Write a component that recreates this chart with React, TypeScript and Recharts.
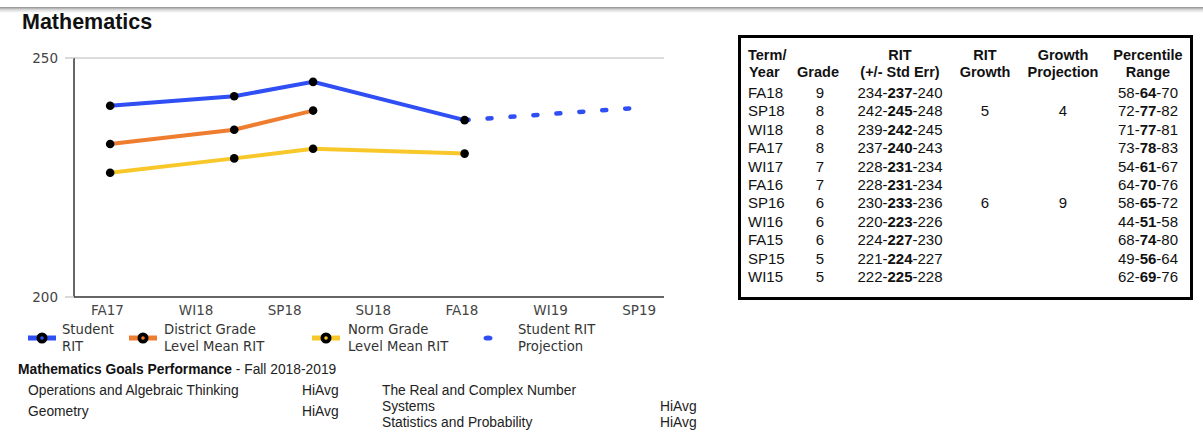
import { LineChart, Line, XAxis, YAxis, ReferenceLine } from "recharts";

const termLabels = ["FA17", "WI18", "SP18", "SU18", "FA18", "WI19", "SP19"];
const testTerms = ["FA17", "WI18", "SP18", "FA18"];
// where each test falls on the term axis (tests are dated, not centred on a term)
const testPositions = [0.03, 1.43, 2.32, 4.03];
const studentRIT = [240, 242, 245, 237];
const districtRIT = [232, 235, 239];
const normRIT = [226, 229, 231, 230];
const projectionPositions = [4.03, 5.92];
const projectionRIT = [237, 239.5];

const tableTerms = ["FA18", "SP18", "WI18", "FA17", "WI17", "FA16", "SP16", "WI16", "FA15", "SP15", "WI15"];
const tableGrades = [9, 8, 8, 8, 7, 7, 6, 6, 6, 5, 5];
const ritLow = [234, 242, 239, 237, 228, 228, 230, 220, 224, 221, 222];
const ritScore = [237, 245, 242, 240, 231, 231, 233, 223, 227, 224, 225];
const ritHigh = [240, 248, 245, 243, 234, 234, 236, 226, 230, 227, 228];
const ritGrowth = ["", "5", "", "", "", "", "6", "", "", "", ""];
const growthProjection = ["", "4", "", "", "", "", "9", "", "", "", ""];
const pctLow = [58, 72, 71, 73, 54, 64, 58, 44, 68, 49, 62];
const pctMid = [64, 77, 77, 78, 61, 70, 65, 51, 74, 56, 69];
const pctHigh = [70, 82, 81, 83, 67, 76, 72, 58, 80, 64, 76];

const goalsLeft = ["Operations and Algebraic Thinking", "Geometry"];
const goalsLeftScore = ["HiAvg", "HiAvg"];
const goalsRight = ["The Real and Complex Number\nSystems", "Statistics and Probability"];
const goalsRightScore = ["HiAvg", "HiAvg"];

const BLUE = "#2f4ef4";
const ORANGE = "#ef7d30";
const YELLOW = "#f8c82a";

const studentData = testTerms.map((t, i) => ({ term: t, pos: testPositions[i], rit: studentRIT[i] }));
const districtData = districtRIT.map((v, i) => ({ term: testTerms[i], pos: testPositions[i], rit: v }));
const normData = normRIT.map((v, i) => ({ term: testTerms[i], pos: testPositions[i], rit: v }));
const projectionData = projectionRIT.map((v, i) => ({ pos: projectionPositions[i], rit: v }));

const dot = { r: 4.3, fill: "#000", stroke: "#000", strokeWidth: 0 };
const tickStyle = { fill: "#444", fontSize: 13.5, fontFamily: "DejaVu Sans" };

function Txt({ x, y, children, align = "left", style = {} }: any) {
  const tx = align === "center" ? "translateX(-50%)" : align === "right" ? "translateX(-100%)" : "none";
  return (
    <div
      style={{
        position: "absolute",
        left: x,
        top: y - 9,
        height: 18,
        lineHeight: "18px",
        whiteSpace: "nowrap",
        transform: tx,
        ...style,
      }}
    >
      {children}
    </div>
  );
}

function LegendIcon({ x, color }: { x: number; color: string }) {
  return (
    <svg style={{ position: "absolute", left: x, top: 330 }} width={30} height={16}>
      <line x1={1} y1={8} x2={29} y2={8} stroke={color} strokeWidth={5} />
      <circle cx={15} cy={8} r={5.5} fill="#000" />
      <circle cx={15} cy={8} r={1.8} fill={color} />
    </svg>
  );
}

function ChartLegend() {
  const lbl = { fontFamily: "DejaVu Sans", fontSize: 13.2, color: "#333" };
  const item = (x: number, a: string, b: string) => (
    <>
      <Txt x={x} y={330} style={lbl}>{a}</Txt>
      <Txt x={x} y={347} style={lbl}>{b}</Txt>
    </>
  );
  return (
    <>
      <LegendIcon x={27} color={BLUE} />
      {item(62, "Student", "RIT")}
      <LegendIcon x={128} color={ORANGE} />
      {item(164, "District Grade", "Level Mean RIT")}
      <LegendIcon x={311} color={YELLOW} />
      {item(348, "Norm Grade", "Level Mean RIT")}
      <svg style={{ position: "absolute", left: 482, top: 334 }} width={12} height={8}>
        <ellipse cx={6} cy={4} rx={4.5} ry={2.6} fill={BLUE} />
      </svg>
      {item(518, "Student RIT", "Projection")}
    </>
  );
}

function RitTable() {
  const hd = { fontFamily: "Liberation Sans", fontSize: 14.5, fontWeight: 700, color: "#111" };
  const cell = { fontFamily: "Liberation Sans", fontSize: 15, color: "#111" };
  const rowY = (i: number) => 93 + i * 18.4;
  return (
    <>
      <div
        style={{
          position: "absolute",
          left: 738,
          top: 35,
          width: 455,
          height: 265,
          border: "3px solid #000",
          boxSizing: "border-box",
        }}
      />
      <Txt x={748} y={55} style={hd}>Term/</Txt>
      <Txt x={749} y={72} style={hd}>Year</Txt>
      <Txt x={818} y={72} align="center" style={hd}>Grade</Txt>
      <Txt x={900} y={55} align="center" style={hd}>RIT</Txt>
      <Txt x={900} y={72} align="center" style={hd}>(+/- Std Err)</Txt>
      <Txt x={985} y={55} align="center" style={hd}>RIT</Txt>
      <Txt x={985} y={72} align="center" style={hd}>Growth</Txt>
      <Txt x={1063} y={55} align="center" style={hd}>Growth</Txt>
      <Txt x={1063} y={72} align="center" style={hd}>Projection</Txt>
      <Txt x={1148} y={55} align="center" style={hd}>Percentile</Txt>
      <Txt x={1148} y={72} align="center" style={hd}>Range</Txt>
      {tableTerms.map((t, i) => (
        <div key={t}>
          <Txt x={748} y={rowY(i)} style={cell}>{t}</Txt>
          <Txt x={820} y={rowY(i)} align="center" style={cell}>{tableGrades[i]}</Txt>
          <Txt x={900} y={rowY(i)} align="center" style={cell}>
            {ritLow[i]}-<b>{ritScore[i]}</b>-{ritHigh[i]}
          </Txt>
          <Txt x={985} y={rowY(i)} align="center" style={cell}>{ritGrowth[i]}</Txt>
          <Txt x={1063} y={rowY(i)} align="center" style={cell}>{growthProjection[i]}</Txt>
          <Txt x={1148} y={rowY(i)} align="center" style={cell}>
            {pctLow[i]}-<b>{pctMid[i]}</b>-{pctHigh[i]}
          </Txt>
        </div>
      ))}
    </>
  );
}

function Goals() {
  const f = { fontFamily: "Liberation Sans", fontSize: 13.8, color: "#222" };
  return (
    <>
      <Txt x={18} y={370} style={f}>
        <span style={{ fontWeight: 700, color: "#111" }}>Mathematics Goals Performance</span> - Fall 2018-2019
      </Txt>
      {goalsLeft.map((g, i) => (
        <div key={g}>
          <Txt x={28} y={391 + i * 21} style={f}>{g}</Txt>
          <Txt x={302} y={391 + i * 21} style={f}>{goalsLeftScore[i]}</Txt>
        </div>
      ))}
      <Txt x={382} y={391} style={f}>{goalsRight[0].split("\n")[0]}</Txt>
      <Txt x={382} y={407} style={f}>{goalsRight[0].split("\n")[1]}</Txt>
      <Txt x={660} y={407} style={f}>{goalsRightScore[0]}</Txt>
      <Txt x={382} y={423} style={f}>{goalsRight[1]}</Txt>
      <Txt x={660} y={423} style={f}>{goalsRightScore[1]}</Txt>
    </>
  );
}

export default function App() {
  return (
    <div
      style={{
        position: "absolute",
        left: 0,
        top: 0,
        width: 1203,
        height: 432,
        background: "#fff",
        overflow: "hidden",
      }}
    >
      <div
        style={{
          position: "absolute",
          left: 0,
          top: 7,
          width: 1203,
          height: 6,
          background: "linear-gradient(#8f8f8f, #d8d8d8 45%, #fff)",
        }}
      />
      <div
        style={{
          position: "absolute",
          left: 22,
          top: 9,
          fontFamily: "Liberation Sans",
          fontWeight: 700,
          fontSize: 21.5,
          color: "#111",
          lineHeight: "26px",
        }}
      >
        Mathematics
      </div>
      <div style={{ position: "absolute", left: 0, top: 0 }}>
        <LineChart width={700} height={320} margin={{ top: 58, right: 36, left: 30, bottom: 3 }}>
          <XAxis
            type="number"
            dataKey="pos"
            domain={[-0.378, 6.28]}
            ticks={termLabels.map((_, i) => i)}
            tickFormatter={(v: number) => termLabels[v] ?? ""}
            allowDataOverflow
            height={20}
            tick={tickStyle}
            tickLine={false}
            axisLine={{ stroke: "#333", strokeWidth: 1.5 }}
            interval={0}
          />
          <YAxis
            type="number"
            domain={[200, 250]}
            ticks={[200, 250]}
            width={44}
            tick={tickStyle}
            tickSize={9}
            tickMargin={7}
            tickLine={{ stroke: "#ccc", strokeWidth: 1.5 }}
            axisLine={{ stroke: "#333", strokeWidth: 1.5 }}
          />
          <ReferenceLine y={250} stroke="#dcdcdc" strokeWidth={2} />
          <Line
            data={projectionData}
            dataKey="rit"
            stroke={BLUE}
            strokeWidth={4.5}
            strokeDasharray="4 19"
            strokeLinecap="round"
            dot={false}
            activeDot={false}
            isAnimationActive={false}
          />
          <Line
            data={studentData}
            dataKey="rit"
            type="linear"
            stroke={BLUE}
            strokeWidth={4}
            dot={dot}
            isAnimationActive={false}
          />
          <Line
            data={districtData}
            dataKey="rit"
            type="linear"
            stroke={ORANGE}
            strokeWidth={4}
            dot={dot}
            isAnimationActive={false}
          />
          <Line
            data={normData}
            dataKey="rit"
            type="linear"
            stroke={YELLOW}
            strokeWidth={4}
            dot={dot}
            isAnimationActive={false}
          />
        </LineChart>
      </div>
      <ChartLegend />
      <Goals />
      <RitTable />
    </div>
  );
}
